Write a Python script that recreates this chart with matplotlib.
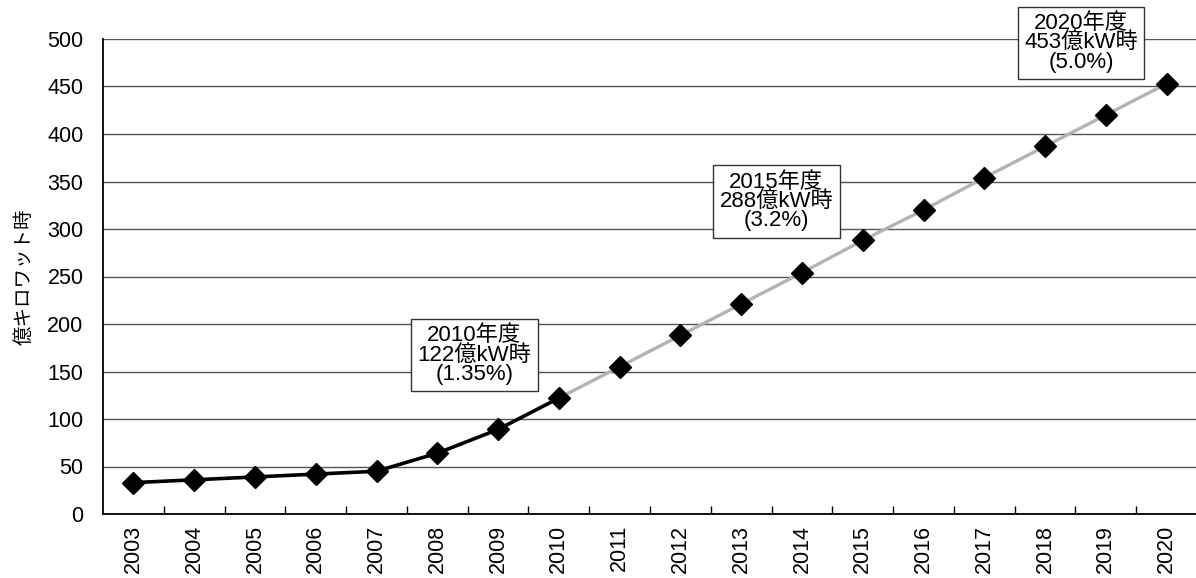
import matplotlib
matplotlib.use("Agg")
import matplotlib.pyplot as plt
import numpy as np

plt.rcParams['font.family'] = ['Liberation Sans', 'Noto Sans CJK JP', 'DejaVu Sans']

years = [str(y) for y in range(2003, 2021)]
actual_years = years[:8]          # 2003-2010
actual_values = [33, 36, 39, 42, 45, 64, 89, 122]
target_years = years[7:]          # 2010-2020
target_values = [122, 155, 188, 221, 254, 288, 320, 354, 387, 420, 453]

annot_texts = ["2010年度\n122億kW時\n(1.35%)",
               "2015年度\n288億kW時\n(3.2%)",
               "2020年度\n453億kW時\n(5.0%)"]
annot_x = [5.61, 10.58, 15.59]
annot_y = [167, 329, 496]

fig = plt.figure(figsize=(11.96, 5.78), dpi=100)
ax = fig.add_axes([103/1196, 1 - 514/578, (1197 - 103)/1196, (514 - 39)/578])

idx = {y: i for i, y in enumerate(years)}
xa = [idx[y] for y in actual_years]
xt = [idx[y] for y in target_years]

ax.plot(xt, target_values, color='#b3b3b3', lw=2.4, zorder=2, solid_capstyle='butt')
ax.plot(xa, actual_values, color='black', lw=2.6, zorder=3)
ax.plot(xt[1:], target_values[1:], ls='none', marker='D', ms=11, color='black', zorder=4)
ax.plot(xa, actual_values, ls='none', marker='D', ms=11, color='black', zorder=4)

ax.set_xlim(-0.5, len(years) - 0.5)
ax.set_ylim(0, 500)
ax.set_yticks(np.arange(0, 501, 50))
ax.yaxis.grid(True, color='#555555', lw=1)
ax.set_axisbelow(True)
ax.tick_params(axis='y', length=0, labelsize=15.5, pad=14)

ax.set_xticks(range(len(years)))
ax.set_xticklabels(years, rotation=90, fontsize=15.5)
ax.tick_params(axis='x', which='major', length=0, pad=8)
ax.set_xticks(np.arange(0.5, len(years) - 0.5, 1), minor=True)
ax.tick_params(axis='x', which='minor', direction='in', length=6, width=1, color='black')

for s in ['top', 'right']:
    ax.spines[s].set_visible(False)
ax.spines['left'].set_linewidth(1.3)
ax.spines['bottom'].set_linewidth(1.3)

ax.set_ylabel('億キロワット時', fontsize=14, labelpad=10)

for t, x, y in zip(annot_texts, annot_x, annot_y):
    ax.text(x, y, t, ha='center', va='center', fontsize=16, linespacing=0.9,
            bbox=dict(boxstyle='square,pad=0.28', facecolor='white', edgecolor='#333333', lw=1),
            zorder=5)

fig.savefig('out.png', dpi=100)
